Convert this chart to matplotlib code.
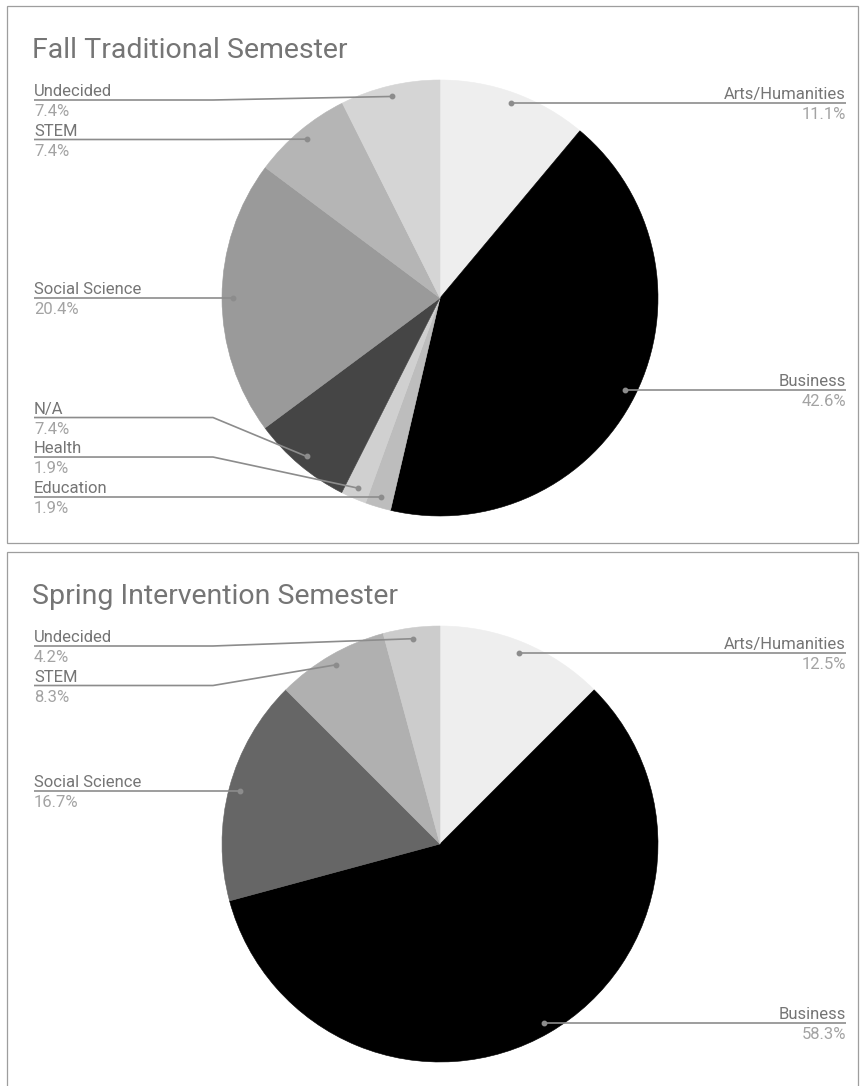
import matplotlib
matplotlib.use("Agg")
import matplotlib.pyplot as plt
import numpy as np
from matplotlib.patches import Rectangle

W, H = 865, 1086

fall_labels = ["Arts/Humanities", "Business", "Education", "Health", "N/A",
               "Social Science", "STEM", "Undecided"]
fall_pct = [11.1, 42.6, 1.9, 1.9, 7.4, 20.4, 7.4, 7.4]
fall_colors = ["#eeeeee", "#000000", "#bdbdbd", "#d0d0d0", "#454545",
               "#9a9a9a", "#b5b5b5", "#d5d5d5"]

spring_labels = ["Arts/Humanities", "Business", "Social Science", "STEM", "Undecided"]
spring_pct = [12.5, 58.3, 16.7, 8.3, 4.2]
spring_colors = ["#eeeeee", "#000000", "#666666", "#b0b0b0", "#cccccc"]

plt.rcParams["font.family"] = ["Roboto", "DejaVu Sans"]

NAME_C = "#757575"
VALUE_C = "#a3a3a3"
LINE_C = "#8c8c8c"
GAP = 39.5      # vertical spacing between stacked labels (px)
BEND = 213      # x where left leader lines turn toward the slice
LABEL_FS = 12


def spread(items, lo, hi):
    # push labels apart: bottom-up from the dots, then top-down from the title
    items.sort(key=lambda d: d["dot"][1])
    for d in items:
        d["y"] = d["dot"][1]
    for i in range(len(items) - 2, -1, -1):
        items[i]["y"] = min(items[i]["y"], items[i + 1]["y"] - GAP)
    prev = lo - GAP
    for d in items:
        d["y"] = min(max(d["y"], prev + GAP, lo), hi)
        prev = d["y"]


def draw_panel(ax, top, title, labels, pct, colors):
    # panel frame (pixel coords, y downwards)
    ax.add_patch(Rectangle((7, H - (top + 537)), 851, 537, fill=False,
                           edgecolor="#9e9e9e", linewidth=0.9, zorder=0))
    ax.text(32, H - (top + 44), title, fontsize=20.5, color=NAME_C,
            ha="left", va="center")

    cx, cy, r = 440, H - (top + 292), 218
    wedges, _ = ax.pie(pct, colors=colors, startangle=90, counterclock=False,
                       center=(cx, cy), radius=r, wedgeprops=dict(linewidth=0.4))
    for w in wedges:
        w.set_edgecolor(w.get_facecolor())

    left, right = [], []
    for w, name, v in zip(wedges, labels, pct):
        mid = np.deg2rad((w.theta1 + w.theta2) / 2)
        dx, dy = 0.95 * r * np.cos(mid), 0.95 * r * np.sin(mid)
        item = dict(name=name, val=f"{v:.1f}%", dot=(cx + dx, H - (cy + dy)))
        (right if dx >= 0 else left).append(item)

    lo, hi = top + 94, top + 510
    spread(left, lo, hi)
    spread(right, lo, hi)

    for side, items in (("left", left), ("right", right)):
        for d in items:
            px, py = d["dot"]
            y = d["y"]
            if side == "left":
                tx, ha = 34, "left"
                bx = min(BEND, px)
            else:
                tx, ha = 846, "right"
                bx = max(W - BEND, px)
            xs = [tx, bx, px]
            ys = [H - y, H - y, H - py]
            ax.plot(xs, ys, color=LINE_C, linewidth=1.2, solid_capstyle="butt",
                    zorder=3)
            ax.plot(px, H - py, "o", color=LINE_C, markersize=3.2, zorder=4)
            ax.text(tx, H - y + 4, d["name"], fontsize=LABEL_FS, color=NAME_C,
                    ha=ha, va="baseline", zorder=5)
            ax.text(tx, H - y - 16, d["val"], fontsize=LABEL_FS, color=VALUE_C,
                    ha=ha, va="baseline", zorder=5)


fig = plt.figure(figsize=(W / 100, H / 100), dpi=100)
ax = fig.add_axes([0, 0, 1, 1])

draw_panel(ax, 6, "Fall Traditional Semester", fall_labels, fall_pct, fall_colors)
draw_panel(ax, 552, "Spring Intervention Semester", spring_labels, spring_pct,
           spring_colors)

ax.set_xlim(0, W)
ax.set_ylim(0, H)
ax.set_aspect("auto")
ax.axis("off")

fig.savefig("out.png", dpi=100, facecolor="white")
